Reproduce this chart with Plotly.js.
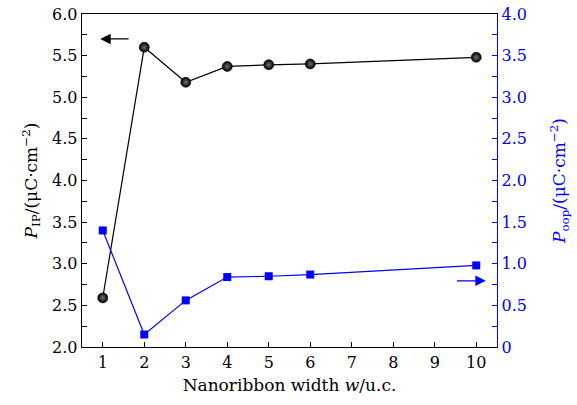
<!DOCTYPE html>
<html>
<head>
<meta charset="utf-8">
<script src="https://cdn.plot.ly/plotly-3.0.1.min.js"></script>
<style>html,body{margin:0;padding:0;background:#fff;}#chart{width:577px;height:405px;}</style>
</head>
<body>
<div id="chart"></div>
<script>
const widths = [1, 2, 3, 4, 5, 6, 10];
const pIP = [2.59, 5.60, 5.18, 5.37, 5.39, 5.40, 5.48];
const pOOP = [1.40, 0.15, 0.56, 0.84, 0.85, 0.87, 0.98];
const xTickVals = [1, 2, 3, 4, 5, 6, 7, 8, 9, 10];
const leftTickVals = [2.0, 2.5, 3.0, 3.5, 4.0, 4.5, 5.0, 5.5, 6.0];
const leftTickText = ["2.0", "2.5", "3.0", "3.5", "4.0", "4.5", "5.0", "5.5", "6.0"];
const rightTickVals = [0, 0.5, 1.0, 1.5, 2.0, 2.5, 3.0, 3.5, 4.0];
const rightTickText = ["0", "0.5", "1.0", "1.5", "2.0", "2.5", "3.0", "3.5", "4.0"];

const FONT = "DejaVu Serif";
const BLUE = "#0000ff";

const traces = [
  {
    x: widths, y: pIP, type: "scatter", mode: "lines+markers", yaxis: "y",
    line: {color: "#000", width: 1.2},
    marker: {symbol: "circle", size: 10, color: "#000",
             gradient: {type: "radial", color: "#707070"},
             line: {color: "#000", width: 0.6}},
    showlegend: false, cliponaxis: false
  },
  {
    x: widths, y: pOOP, type: "scatter", mode: "lines+markers", yaxis: "y2",
    line: {color: BLUE, width: 1.2},
    marker: {symbol: "square", size: 8, color: BLUE},
    showlegend: false, cliponaxis: false
  }
];

const layout = {
  width: 577, height: 405,
  margin: {l: 82, r: 79.5, t: 14, b: 58.3},
  paper_bgcolor: "#fff", plot_bgcolor: "#fff",
  font: {family: FONT, size: 16, color: "#000"},
  showlegend: false,
  xaxis: {
    range: [0.5, 10.5], tickvals: xTickVals, ticktext: xTickVals.map(String),
    ticks: "inside", ticklen: 5, tickwidth: 1, tickcolor: "#000",
    showline: true, linecolor: "#000", linewidth: 1.3, mirror: true,
    showgrid: false, zeroline: false,
    tickfont: {family: FONT, size: 16, color: "#000"},
    title: {text: "Nanoribbon width <i>w</i>/u.c.", font: {family: FONT, size: 17, color: "#000"}, standoff: 8}
  },
  yaxis: {
    range: [2.0, 6.0], tickvals: leftTickVals, ticktext: leftTickText,
    ticks: "inside", ticklen: 5, tickwidth: 1, tickcolor: "#000",
    minor: {ticks: "inside", ticklen: 5, tickwidth: 1, tickcolor: "#000", dtick: 0.25, showgrid: false},
    showline: true, linecolor: "#000", linewidth: 1.3, mirror: false,
    showgrid: false, zeroline: false,
    tickfont: {family: FONT, size: 16, color: "#000"},
    title: {text: "<i>P</i><sub>IP</sub>/(μC·cm<sup>−2</sup>)", font: {family: FONT, size: 17, color: "#000"}, standoff: 10}
  },
  yaxis2: {
    range: [0, 4.0], overlaying: "y", side: "right",
    tickvals: rightTickVals, ticktext: rightTickText,
    ticks: "inside", ticklen: 5, tickwidth: 1, tickcolor: BLUE,
    minor: {ticks: "inside", ticklen: 5, tickwidth: 1, tickcolor: BLUE, dtick: 0.25, showgrid: false},
    showline: true, linecolor: BLUE, linewidth: 1.3,
    showgrid: false, zeroline: false,
    tickfont: {family: FONT, size: 16, color: BLUE},
    title: {text: "<i>P</i><sub>oop</sub>/(μC·cm<sup>−2</sup>)", font: {family: FONT, size: 17, color: BLUE}, standoff: 27}
  },
  annotations: [
    {x: 0.94, y: 5.70, xref: "x", yref: "y", ax: 1.66, ay: 5.70, axref: "x", ayref: "y",
     showarrow: true, arrowhead: 2, arrowsize: 1.6, arrowwidth: 1.3, arrowcolor: "#000", text: ""},
    {x: 10.23, y: 0.795, xref: "x", yref: "y2", ax: 9.5, ay: 0.795, axref: "x", ayref: "y2",
     showarrow: true, arrowhead: 2, arrowsize: 1.6, arrowwidth: 1.3, arrowcolor: BLUE, text: ""}
  ]
};

Plotly.newPlot("chart", traces, layout, {displayModeBar: false, staticPlot: true});
</script>
</body>
</html>
